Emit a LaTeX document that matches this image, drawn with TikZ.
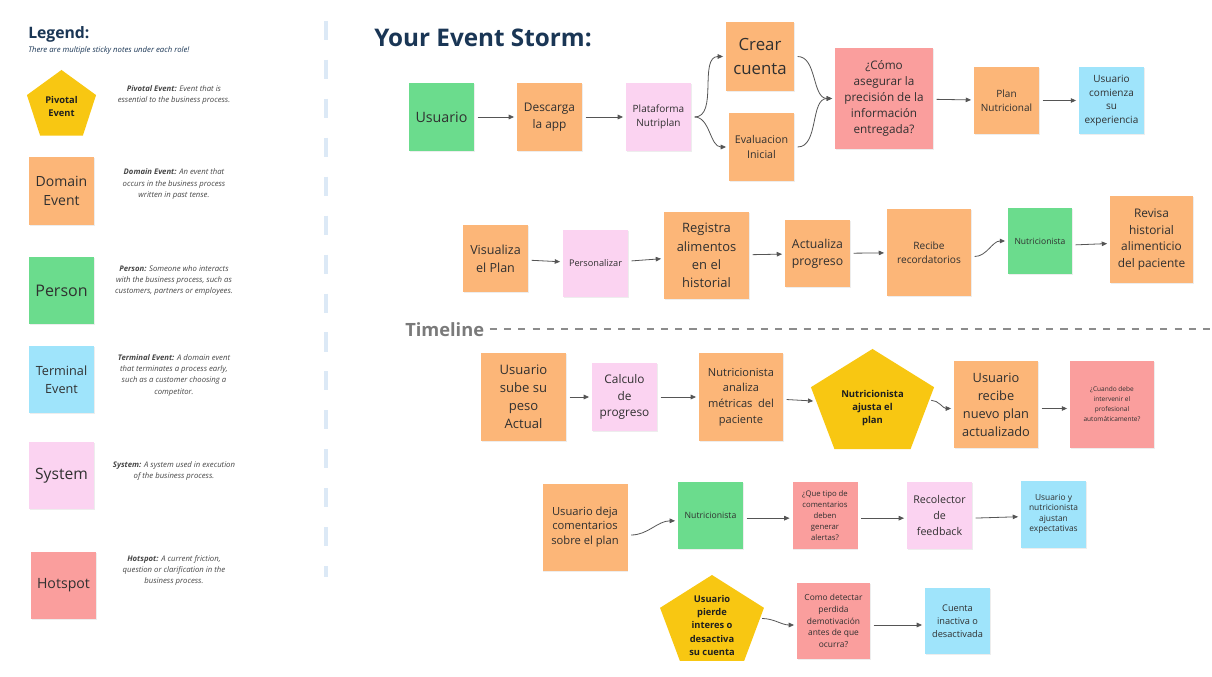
\documentclass[tikz,border=0pt]{standalone}
\usepackage{fontspec}
\setmainfont{Open Sans}
\usetikzlibrary{arrows.meta,shapes.geometric,shadows}

\definecolor{naranja}{HTML}{FCB678}
\definecolor{verde}{HTML}{6BDC8D}
\definecolor{rosa}{HTML}{FBD3F1}
\definecolor{celeste}{HTML}{9FE4FB}
\definecolor{rojo}{HTML}{FA9E9D}
\definecolor{amarillo}{HTML}{F8C712}
\definecolor{marino}{HTML}{1A3655}
\definecolor{tinta}{HTML}{303030}
\definecolor{gris}{HTML}{555555}
\definecolor{guia}{HTML}{DCE9F6}

\tikzset{
	tablero/.style={x=0.75pt, y=-0.75pt, >={Triangle[length=4pt,width=3.4pt]}},
	fs/.style 2 args={font=\fontsize{#1}{#2}\selectfont},
	tam/.style 2 args={minimum width=#1*0.75pt, minimum height=#2*0.75pt},
	nota/.style={align=center, inner sep=1.5pt, text=tinta,
	             drop shadow={shadow xshift=0.4pt, shadow yshift=-1.1pt, opacity=0.14}},
	evento/.style={nota, fill=naranja},
	persona/.style={nota, fill=verde},
	sistema/.style={nota, fill=rosa},
	terminal/.style={nota, fill=celeste},
	critico/.style={nota, fill=rojo},
	pivote/.style={regular polygon, regular polygon sides=5, fill=amarillo, inner sep=0pt},
	pivtxt/.style={align=center, text=black!88, font=\fontsize{7.1}{10}\selectfont\bfseries},
	desc/.style={align=center, text=black!72, font=\fontsize{5.8}{8.5}\selectfont\itshape},
	rotulo/.style={anchor=base west, inner sep=0pt},
	flecha/.style={->, draw=gris, line width=0.6pt, shorten <=2.5pt, shorten >=2pt},
}

\begin{document}
\begin{tikzpicture}[tablero]
\useasboundingbox (0,0) rectangle (1212,677);
\fill[white] (0,0) rectangle (1212,677);

% ---------- leyenda ----------
\node[rotulo, text=marino, font=\fontsize{11.8}{14}\selectfont\bfseries] (leytit) at (28,38.3) {Legend:};
\node[rotulo, text=marino, font=\fontsize{5.8}{7}\selectfont\itshape] (leysub) at (28,52.3)
    {There are multiple sticky notes under each role!};

\node[pivote, minimum size=54.5pt, align=center, text=black!88,
      font=\fontsize{7}{9.75}\selectfont\bfseries] (lpiv) at (61.5,106.3) {Pivotal\\Event};
\node[evento, tam={65}{68}, fs={10.5}{14.5}] (ldom) at (61.5,191) {Domain\\Event};
\node[persona, tam={65}{67}, fs={12}{15}] (lper) at (61.5,290.5) {Person};
\node[terminal, tam={65}{67}, fs={9.5}{13.3}] (lter) at (61.5,379.5) {Terminal\\Event};
\node[sistema, tam={65}{67}, fs={11.7}{14}] (lsis) at (61.5,475.5) {System};
\node[critico, tam={65}{67}, fs={10.6}{13}] (lcri) at (63.5,585.5) {Hotspot};

\node[desc] (dpiv) at (174,94.7) {\textbf{Pivotal Event:} Event that is\\essential to the business process.};
\node[desc] (ddom) at (174,184) {\textbf{Domain Event:} An event that\\occurs in the business process\\written in past tense.};
\node[desc] (dper) at (174,280.5) {\textbf{Person:} Someone who interacts\\with the business process, such as\\customers, partners or employees.};
\node[desc] (dter) at (174,375) {\textbf{Terminal Event:} A domain event\\that terminates a process early,\\such as a customer choosing a\\competitor.};
\node[desc] (dsis) at (174,471.3) {\textbf{System:} A system used in execution\\of the business process.};
\node[desc] (dcri) at (174,570.5) {\textbf{Hotspot:} A current friction,\\question or clarification in the\\business process.};

\draw[guia, line width=3.5pt, dash pattern=on 14.3pt off 14.9pt] (326,21) -- (326,577);

% ---------- fila 1 ----------
\node[rotulo, text=marino, font=\fontsize{18.2}{20}\selectfont\bfseries] (titulo) at (374,46.7) {Your Event Storm:};

\node[persona, tam={65}{68}, fs={10.7}{14}] (usu1) at (441.5,117) {Usuario};
\node[evento, tam={65}{68}, fs={8.9}{12.7}] (desc1) at (549.5,117) {Descarga\\la app};
\node[sistema, tam={65}{68}, fs={7.5}{10.5}] (plat) at (658.5,117) {Plataforma\\Nutriplan};
\node[evento, tam={68}{69}, fs={12.6}{17.5}] (crear) at (760,56.5) {Crear\\cuenta};
\node[evento, tam={65}{68}, fs={8}{11.2}] (evalu) at (761.5,147) {Evaluacion\\Inicial};
\node[critico, tam={98}{101}, fs={8.8}{12}] (como) at (884,98.5)
    {¿Cómo\\asegurar la\\precisión de la\\información\\entregada?};
\node[evento, tam={65}{67}, fs={7.5}{10.3}] (plan) at (1006.5,100.5) {Plan\\Nutricional};
\node[terminal, tam={65}{67}, fs={7.5}{10.3}] (usuexp) at (1111.5,100.5) {Usuario\\comienza\\su\\experiencia};

\draw[flecha] (usu1) -- (desc1);
\draw[flecha] (desc1) -- (plat);
\draw[flecha] (plat.east) to[out=0,in=180] (crear.west);
\draw[flecha] (plat.east) to[out=0,in=180] (evalu.west);
\draw[flecha] (crear.east) to[out=0,in=180] (como.west);
\draw[flecha] (evalu.east) to[out=0,in=180] (como.west);
\draw[flecha] (como) -- (plan);
\draw[flecha] (plan) -- (usuexp);

% ---------- fila 2 ----------
\node[evento, tam={65}{67}, fs={9.4}{13.5}] (vis) at (495.5,258.5) {Visualiza\\el Plan};
\node[sistema, tam={65}{67}, fs={6.9}{9}] (pers) at (595.5,263.5) {Personalizar};
\node[evento, tam={85}{87}, fs={9.7}{13.7}] (reg) at (706.5,255.5) {Registra\\alimentos\\en el\\historial};
\node[evento, tam={65}{67}, fs={9.2}{13}] (act) at (817.5,253.5) {Actualiza\\progreso};
\node[evento, tam={84}{87}, fs={7.6}{10.5}] (rec) at (929,252.5) {Recibe\\recordatorios};
\node[persona, tam={64}{66}, fs={6.4}{8}] (nut2) at (1040,241) {Nutricionista};
\node[evento, tam={83}{87}, fs={8.9}{12.5}] (rev) at (1151.5,239.5) {Revisa\\historial\\alimenticio\\del paciente};

\draw[flecha] (vis) -- (pers);
\draw[flecha] (pers) -- (reg);
\draw[flecha] (reg) -- (act);
\draw[flecha] (act) -- (rec);
\draw[flecha] ([yshift=-3pt]rec.east) to[out=0,in=180] (nut2.west);
\draw[flecha] ([yshift=-3pt]nut2.east) -- ([yshift=-3pt]rev.west);

% ---------- linea de tiempo ----------
\node[rotulo, text=black!52, font=\fontsize{13.7}{16}\selectfont\bfseries] (linea) at (405,336.5) {Timeline};
\coordinate (finlinea) at (1212,329);
\draw[black!45, line width=1.5pt, dash pattern=on 5.4pt off 5.3pt] ([xshift=4pt]linea.east |- finlinea) -- (finlinea);

% ---------- fila 3 ----------
\node[evento, tam={85}{88}, fs={9.8}{13.5}] (usub) at (523.5,397) {Usuario\\sube su\\peso\\Actual};
\node[sistema, tam={65}{68}, fs={8.9}{12.5}] (calc) at (624.5,397) {Calculo\\de\\progreso};
\node[evento, tam={84}{88}, fs={8.3}{11.8}] (nutan) at (741,397) {Nutricionista\\analiza\\métricas\ \ del\\paciente};
\begin{scope}[shift={(872.5,404.3)}, xscale=1.17]
    \node[pivote, transform shape, minimum size=83pt] (piv1) at (0,0) {};
\end{scope}
\node[pivtxt] (piv1t) at (872.5,408) {Nutricionista\\ajusta el\\plan};
\node[evento, tam={84}{87}, fs={9.6}{13.5}] (urec) at (996,404.5) {Usuario\\recibe\\nuevo plan\\actualizado};
\node[critico, tam={84}{87}, fs={4.9}{7.5}] (cuando) at (1112,404.5)
    {¿Cuando debe\\intervenir el\\profesional\\automáticamente?};

\draw[flecha] (usub) -- (calc);
\draw[flecha] (calc) -- (nutan);
\draw[flecha] (nutan) -- (piv1);
\draw[flecha] ([yshift=3pt]piv1.east) to[out=0,in=180] ([yshift=-3pt]urec.west);
\draw[flecha] ([yshift=-3pt]urec.east) -- ([yshift=-3pt]cuando.west);

% ---------- fila 4 ----------
\node[evento, tam={85}{87}, fs={8.4}{11}] (udeja) at (585,527) {Usuario deja\\comentarios\\sobre el plan};
\node[persona, tam={65}{67}, fs={6.5}{8}] (nut4) at (710.5,515.5) {Nutricionista};
\node[critico, tam={65}{67}, fs={5.8}{8.2}] (que) at (825,515.5) {¿Que tipo de\\comentarios\\deben\\generar\\alertas?};
\node[sistema, tam={65}{67}, fs={8}{12}] (recol) at (939.5,515.5) {Recolector\\de\\feedback};
\node[terminal, tam={65}{67}, fs={6.3}{7.8}] (usuy) at (1053.5,514) {Usuario y\\nutricionista\\ajustan\\expectativas};

\draw[flecha] ([yshift=-6pt]udeja.east) to[out=0,in=180] ([yshift=-4pt]nut4.west);
\draw[flecha] ([yshift=-2pt]nut4.east) -- ([yshift=-2pt]que.west);
\draw[flecha] ([yshift=-2pt]que.east) -- ([yshift=-2pt]recol.west);
\draw[flecha] ([yshift=-2pt]recol.east) -- ([yshift=-2pt]usuy.west);

% ---------- fila 5 ----------
\begin{scope}[shift={(712,622.5)}, xscale=1.15]
    \node[pivote, transform shape, minimum size=71.25pt] (piv2) at (0,0) {};
\end{scope}
\node[pivtxt, font=\fontsize{7}{10}\selectfont\bfseries] (piv2t) at (712,625.2)
    {Usuario\\pierde\\interes o\\desactiva\\su cuenta};
\node[critico, tam={73}{76}, fs={6.3}{8.8}] (comodet) at (833.5,621)
    {Como detectar\\perdida\\demotivación\\antes de que\\ocurra?};
\node[terminal, tam={65}{66}, fs={6.9}{9.8}] (cuenta) at (957.5,621) {Cuenta\\inactiva o\\desactivada};

\draw[flecha] ([yshift=3pt]piv2.east) to[out=0,in=180] ([yshift=-3pt]comodet.west);
\draw[flecha] ([yshift=-3pt]comodet.east) -- ([yshift=-3pt]cuenta.west);

\end{tikzpicture}
\end{document}
